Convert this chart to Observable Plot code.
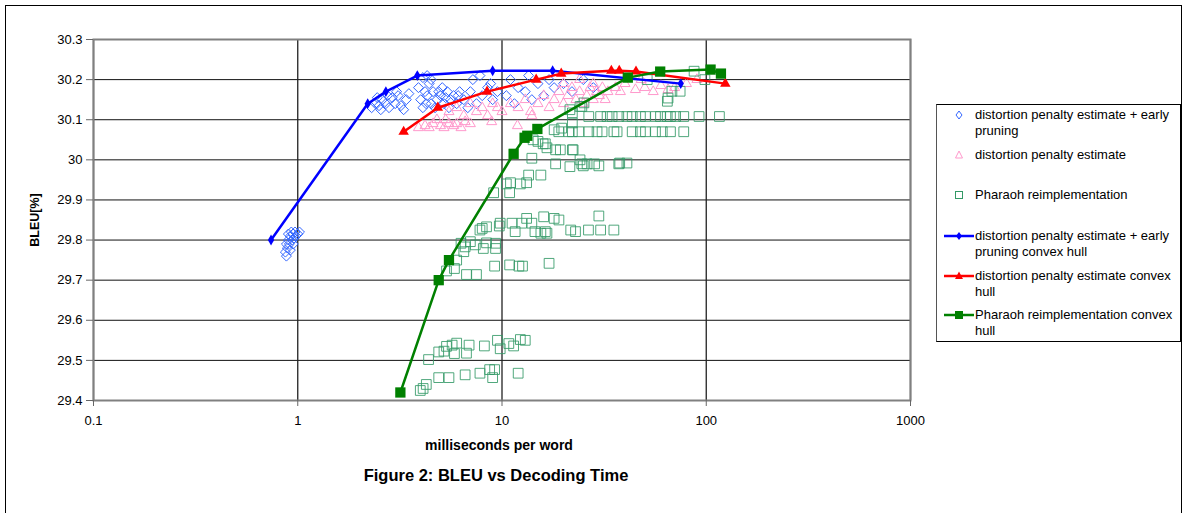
<!DOCTYPE html>
<html>
<head>
<meta charset="utf-8">
<script src="https://cdn.jsdelivr.net/npm/d3@7"></script>
<script src="https://cdn.jsdelivr.net/npm/@observablehq/plot@0.6"></script>
<style>
  html, body { margin: 0; padding: 0; background: #fff; }
  #wrap { position: relative; width: 1187px; height: 513px; overflow: hidden; font-family: "Liberation Sans", Arial, sans-serif; color: #000; }
  #wrap svg.plot { position: absolute; left: 0; top: 0; }
  .abs { position: absolute; white-space: nowrap; }
  #border { position: absolute; left: 5px; top: 5px; width: 1175px; height: 520px; border: 1.5px solid #000; }
  #legend { position: absolute; left: 936px; top: 104px; width: 243px; height: 236px; border: 1px solid #000; border-left: 1.5px solid #555; background: #fff; }
  .lt { position: absolute; left: 38px; font-size: 13px; line-height: 16px; }
  .sw { position: absolute; left: 6px; }
</style>
</head>
<body>
<div id="wrap">
  <div id="border"></div>
</div>
<script>
// ---------- data ----------
const xTicks = [0.1, 1, 10, 100, 1000];
const yTicks = [29.4, 29.5, 29.6, 29.7, 29.8, 29.9, 30.0, 30.1, 30.2, 30.3];

const seriesNames = [
  "distortion penalty estimate + early pruning",
  "distortion penalty estimate",
  "Pharaoh reimplementation",
  "distortion penalty estimate + early pruning convex hull",
  "distortion penalty estimate convex hull",
  "Pharaoh reimplementation convex hull"
];

// distortion penalty estimate + early pruning (ms/word, BLEU)
const pruneDots = [
  [0.87,29.77],[0.88,29.76],[0.89,29.78],[0.9,29.8],[0.91,29.79],[0.92,29.81],[0.93,29.82],[0.94,29.8],
  [0.95,29.815],[0.96,29.805],[0.97,29.82],[0.98,29.81],[1.0,29.815],[1.02,29.82],[0.9,29.815],[0.92,29.775],
  [0.95,29.79],[0.88,29.79],
  [2.3,30.13],[2.4,30.14],[2.45,30.155],[2.5,30.135],[2.6,30.15],[2.7,30.14],[2.75,30.16],[2.8,30.13],
  [2.9,30.155],[3.0,30.14],[3.1,30.16],[3.2,30.135],[3.3,30.125],[3.4,30.15],[3.5,30.165],[2.55,30.125],[3.05,30.17],
  [3.9,30.18],[4.0,30.15],[4.1,30.13],[4.2,30.17],[4.3,30.16],[4.4,30.19],[4.5,30.14],[4.6,30.17],[4.7,30.13],
  [4.8,30.15],[5.0,30.16],[5.1,30.18],[5.2,30.14],[5.4,30.17],[5.5,30.13],[5.6,30.15],[5.8,30.16],[6.0,30.14],
  [6.1,30.16],[6.2,30.17],[4.1,30.205],[4.3,30.21],[4.5,30.2],[4.25,30.14],[4.9,30.17],[5.3,30.155],
  [6.5,30.15],[6.8,30.13],[7.0,30.17],[7.2,30.2],[7.5,30.14],[7.8,30.21],[8.0,30.16],[8.5,30.18],[8.8,30.19],
  [9.0,30.15],[9.5,30.17],[10.5,30.16],[11,30.2],[11.5,30.14],[12,30.18],[13,30.17],[13.5,30.21],[14,30.15],
  [15,30.19],[16,30.16],[17,30.2],[18,30.18],[20,30.19],[22,30.17],[25,30.2],[28,30.18]
];

// distortion penalty estimate
const distDots = [
  [3.9,30.08],[4.2,30.085],[4.4,30.08],[4.6,30.09],[4.8,30.1],[5.0,30.085],[5.2,30.08],[5.3,30.1],[5.5,30.09],
  [5.8,30.085],[6.0,30.09],[6.3,30.08],[6.6,30.095],[7.0,30.09],[8.9,30.095],[11.9,30.085],
  [5.5,30.12],[6.0,30.13],[6.5,30.11],[7.0,30.14],[7.5,30.12],[8.0,30.13],[8.5,30.11],[9.0,30.14],[9.5,30.13],
  [10,30.12],[11,30.14],[12,30.13],[13,30.15],[13.8,30.12],[14,30.11],[15,30.14],[16,30.16],[17,30.13],
  [18,30.15],[19,30.17],[20,30.14],[21,30.16],[22,30.18],[23,30.15],[24,30.17],[25,30.14],[26,30.16],[27,30.18],
  [28,30.15],[29,30.17],[30,30.16],[31,30.18],[32,30.15],[20,30.19],[24,30.2],[28,30.19],[33,30.17],
  [36,30.18],[38,30.17],[40,30.19],[45,30.175],[50,30.18],[55,30.17],[60,30.185],[65,30.175],[70,30.18],
  [80,30.19],[90,30.2],[48,30.2]
];

// Pharaoh reimplementation
const pharaohDots = [
  [4.11,29.43],[3.98,29.425],[4.26,29.44],[4.9,29.457],[5.5,29.457],[6.6,29.464],[7.8,29.468],[8.7,29.477],
  [9.2,29.477],[9.0,29.457],[12.0,29.468],
  [4.37,29.502],[4.9,29.521],[5.2,29.523],[5.35,29.535],[5.7,29.538],[6.0,29.543],[5.85,29.517],[6.9,29.538],
  [6.7,29.518],[8.2,29.536],[9.5,29.55],[9.8,29.529],[10.8,29.542],[11.4,29.536],[12.3,29.552],[13.0,29.55],
  [6.0,29.75],[5.85,29.729],[5.35,29.723],[6.7,29.714],[7.5,29.714],[9.2,29.735],[10.9,29.738],[12.1,29.735],
  [12.6,29.735],[17.0,29.742],
  [6.3,29.792],[6.6,29.783],[7.0,29.796],[7.4,29.788],[8.1,29.779],[8.4,29.793],[9.3,29.779],[9.3,29.792],[6.5,29.771],
  [8.0,29.829],[8.4,29.833],[9.7,29.835],[9.8,29.842],[11.2,29.842],[11.6,29.821],[12.5,29.842],[13.2,29.854],
  [14.0,29.842],[14.5,29.821],[16.0,29.858],[16.3,29.821],[18.0,29.854],[19.0,29.85],[21.7,29.825],[22.9,29.821],
  [26.5,29.825],[29.8,29.86],[30.4,29.825],[35.3,29.825],[15.5,29.817],[16.6,29.817],[7.8,29.825],
  [9.1,29.918],[10.9,29.918],[10.5,29.94],[12.3,29.94],[13.2,29.943],[11.0,29.943],[13.5,29.962],[15.5,29.962],
  [14.0,30.004],[16.3,30.04],[16.6,30.03],[15.0,30.046],[14.2,30.05],[15.9,30.04],
  [18.3,29.99],[21.5,29.983],[24.6,29.99],[26.1,29.99],[28.4,29.99],[37.7,29.992],[40.9,29.992],[24.1,30.0],
  [25.0,29.985],[29.8,29.985],[37.3,29.99],
  [18.3,30.025],[19.3,30.025],[22.1,30.025],[22.3,30.025],
  [18.0,30.075],[18.97,30.07],[19.6,30.079],[21.2,30.07],[22.1,30.07],[23.8,30.07],[26.6,30.07],[29.2,30.07],
  [30.9,30.07],[35.3,30.07],[36.6,30.07],[43.4,30.07],[47.6,30.07],[50.4,30.07],[56.4,30.07],[60.9,30.07],
  [66.8,30.07],[77.6,30.07],[22.1,30.092],
  [26.6,30.108],[30.4,30.108],[32.7,30.108],[34.6,30.108],[37.3,30.108],[40.9,30.108],[43.4,30.108],[47.6,30.108],
  [50.4,30.108],[56.4,30.108],[59.7,30.108],[64.4,30.108],[66.8,30.108],[70.8,30.108],[77.6,30.108],[92.2,30.108],
  [116,30.108],
  [21.5,30.125],[22.1,30.117],[24.1,30.133],[25.2,30.142],[24.6,30.133],[64.5,30.146],[65,30.154],[67.9,30.171],
  [74.5,30.171],[87.2,30.221],[98.5,30.2],[51.4,30.2]
];

// convex hulls
const pruneHullX = [0.74, 2.2, 2.7, 3.85, 9.0, 17.7, 75];
const pruneHullY = [29.80, 30.14, 30.17, 30.21, 30.222, 30.222, 30.19];
const distHullX = [3.3, 4.85, 8.45, 14.7, 19.5, 34.3, 37.5, 45.3, 124];
const distHullY = [30.07, 30.13, 30.17, 30.20, 30.215, 30.222, 30.222, 30.22, 30.19];
const pharaohHullX = [3.18, 4.9, 5.5, 11.4, 12.9, 13.3, 14.9, 41.3, 59.5, 105, 118];
const pharaohHullY = [29.42, 29.70, 29.75, 30.015, 30.055, 30.06, 30.077, 30.205, 30.22, 30.225, 30.215];

// ---------- build ----------
const toObj = a => a.map(([x, y]) => ({x, y}));
const zip = (xs, ys) => xs.map((x, i) => ({x, y: ys[i]}));

const colors = {
  prune: "#3366ff", dist: "#ff99cc", pharaoh: "#339966",
  pruneHull: "#0000ff", distHull: "#ff0000", pharaohHull: "#008000"
};

const chart = Plot.plot({
  width: 1187,
  height: 513,
  marginLeft: 93,
  marginRight: 277,
  marginTop: 39,
  marginBottom: 113,
  style: { fontFamily: "'Liberation Sans', Arial, sans-serif", fontSize: "13px", background: "transparent", color: "#000" },
  x: { type: "log", domain: [0.1, 1000] },
  y: { domain: [29.4, 30.3] },
  marks: [
    Plot.gridY({ ticks: yTicks, stroke: "#111", strokeOpacity: 1, strokeWidth: 1 }),
    Plot.gridX({ ticks: xTicks, stroke: "#222", strokeOpacity: 1, strokeWidth: 1.3 }),
    Plot.frame({ stroke: "#808080", strokeWidth: 2 }),
    Plot.dot(toObj(pruneDots), { x: "x", y: "y", symbol: "diamond2", r: 4.5, stroke: colors.prune, fill: "none", strokeWidth: 1 }),
    Plot.dot(toObj(distDots), { x: "x", y: "y", symbol: "triangle2", r: 4.8, stroke: colors.dist, fill: "none", strokeWidth: 1 }),
    Plot.dot(toObj(pharaohDots), { x: "x", y: "y", symbol: "square2", r: 6.2, stroke: colors.pharaoh, strokeOpacity: 0.85, fill: "none", strokeWidth: 1 }),
    Plot.line(zip(pruneHullX, pruneHullY), { x: "x", y: "y", stroke: colors.pruneHull, strokeWidth: 2.5 }),
    Plot.dot(zip(pruneHullX, pruneHullY), { x: "x", y: "y", symbol: "diamond", r: 3.3, fill: colors.pruneHull }),
    Plot.line(zip(distHullX, distHullY), { x: "x", y: "y", stroke: colors.distHull, strokeWidth: 2.5 }),
    Plot.dot(zip(distHullX, distHullY), { x: "x", y: "y", symbol: "triangle", r: 3.9, fill: colors.distHull }),
    Plot.line(zip(pharaohHullX, pharaohHullY), { x: "x", y: "y", stroke: colors.pharaohHull, strokeWidth: 2.5 }),
    Plot.dot(zip(pharaohHullX, pharaohHullY), { x: "x", y: "y", symbol: "square", r: 5.8, fill: colors.pharaohHull }),
    Plot.axisX({ ticks: xTicks, tickFormat: d => String(d), tickSize: 6, tickPadding: 9, stroke: "#666", label: null, fontSize: 13 }),
    Plot.axisY({ ticks: yTicks, tickFormat: d => String(Math.round(d * 10) / 10), tickSize: 7, tickPadding: 4, stroke: "#666", label: null, fontSize: 13 })
  ]
});
chart.classList.add("plot");
const wrap = document.getElementById("wrap");
wrap.appendChild(chart);

// ---------- text ----------
function addText(txt, left, top, css) {
  const d = document.createElement("div");
  d.className = "abs";
  d.textContent = txt;
  d.style.left = left + "px";
  d.style.top = top + "px";
  Object.assign(d.style, css || {});
  wrap.appendChild(d);
  return d;
}
addText("BLEU[%]", 35, 220, { fontWeight: "bold", fontSize: "12.5px", transform: "translate(-50%,-50%) rotate(-90deg)" });
addText("milliseconds per word", 499, 445, { fontWeight: "bold", fontSize: "14px", transform: "translate(-50%,-50%)" });
addText("Figure 2: BLEU vs Decoding Time", 496, 475, { fontWeight: "bold", fontSize: "16.5px", transform: "translate(-50%,-50%)" });

// ---------- legend ----------
const legend = document.createElement("div");
legend.id = "legend";
wrap.appendChild(legend);
const legendTop = 104;
const entries = [
  { lines: ["distortion penalty estimate + early", "pruning"], y: 114, kind: "diamond2", color: colors.prune },
  { lines: [seriesNames[1]], y: 154, kind: "triangle2", color: colors.dist },
  { lines: [seriesNames[2]], y: 194, kind: "square2", color: colors.pharaoh },
  { lines: ["distortion penalty estimate + early", "pruning convex hull"], y: 235, kind: "lineDiamond", color: colors.pruneHull },
  { lines: ["distortion penalty estimate convex", "hull"], y: 275, kind: "lineTriangle", color: colors.distHull },
  { lines: ["Pharaoh reimplementation convex", "hull"], y: 314, kind: "lineSquare", color: colors.pharaohHull }
];
const ns = "http://www.w3.org/2000/svg";
for (const e of entries) {
  const cy = e.y - legendTop;
  const t = document.createElement("div");
  t.className = "lt";
  t.style.top = (cy - 8) + "px";
  t.innerHTML = e.lines.map(l => l.replace(/&/g, "&amp;")).join("<br>");
  legend.appendChild(t);
  const s = document.createElementNS(ns, "svg");
  s.setAttribute("width", 32); s.setAttribute("height", 16);
  s.setAttribute("class", "sw");
  s.style.top = (cy - 8) + "px";
  let inner = "";
  if (e.kind.startsWith("line")) inner += `<line x1="1" x2="31" y1="8" y2="8" stroke="${e.color}" stroke-width="2.5"/>`;
  if (e.kind === "diamond2") inner += `<path d="M16,4 L19,8 L16,12 L13,8Z" fill="none" stroke="${e.color}" stroke-width="1"/>`;
  if (e.kind === "triangle2") inner += `<path d="M16,4 L19.5,11 L12.5,11Z" fill="none" stroke="${e.color}" stroke-width="1"/>`;
  if (e.kind === "square2") inner += `<rect x="12.5" y="4.5" width="7" height="7" fill="none" stroke="${e.color}" stroke-width="1"/>`;
  if (e.kind === "lineDiamond") inner += `<path d="M16,4 L19,8 L16,12 L13,8Z" fill="${e.color}"/>`;
  if (e.kind === "lineTriangle") inner += `<path d="M16,3.5 L20,11 L12,11Z" fill="${e.color}"/>`;
  if (e.kind === "lineSquare") inner += `<rect x="12" y="4" width="8" height="8" fill="${e.color}"/>`;
  s.innerHTML = inner;
  legend.appendChild(s);
}
</script>
</body>
</html>
